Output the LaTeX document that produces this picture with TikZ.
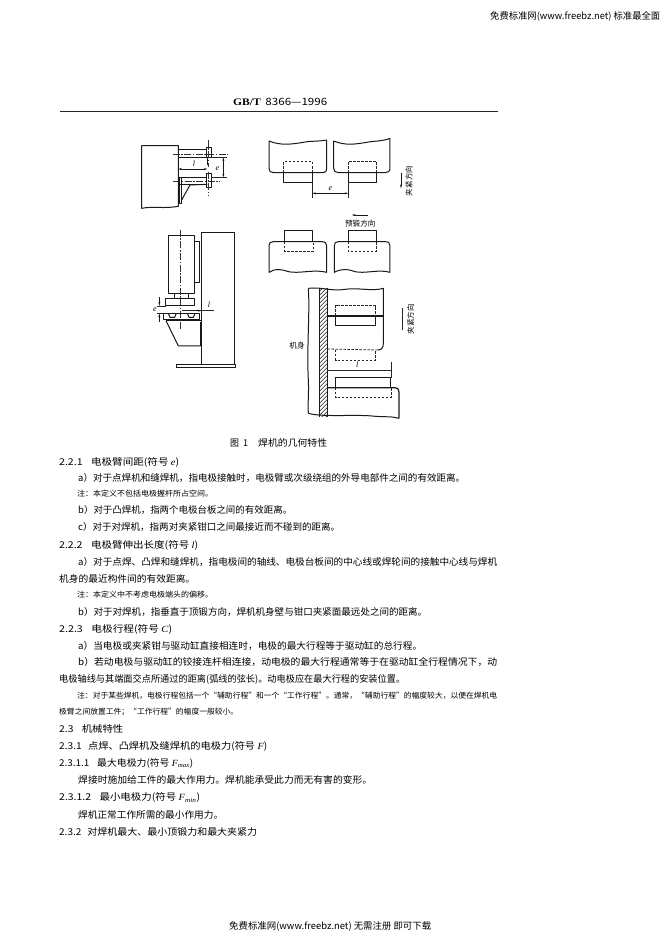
\documentclass[tikz,border=0pt]{standalone}
\usepackage{fontspec}
\usepackage{graphicx}
\setmainfont{Noto Sans CJK SC}
\newfontfamily\serifsym{Liberation Serif}
\usetikzlibrary{arrows.meta}
\newcommand{\sym}[1]{{\serifsym\itshape #1}}
\newcommand{\tline}[6]{\node[txt,font=\fontsize{#5}{#5}\selectfont] (#1) at (#2,#3) {\resizebox{#4pt}{\height}{#6}};}
\tikzset{
  txt/.style={anchor=west,inner sep=0pt,text=black},
  ln/.style={line width=1pt,draw=black!90,line join=round},
  thin/.style={line width=0.6pt,draw=black!85},
  dsh/.style={line width=0.8pt,draw=black!85,dash pattern=on 2.5pt off 1.5pt},
  ctr/.style={line width=0.6pt,draw=black!80,dash pattern=on 7pt off 1.5pt on 1.5pt off 1.5pt},
  dimarr/.style={line width=0.6pt,draw=black!90,{Stealth[length=3.5pt,width=2pt]}-{Stealth[length=3.5pt,width=2pt]}},
  onearr/.style={line width=0.6pt,draw=black!90,-{Stealth[length=4pt,width=2pt]}},
  lab/.style={inner sep=0pt,text=black},
  hatchline/.style={line width=0.5pt,draw=black!90}
}
\begin{document}
\begin{tikzpicture}[x=1pt,y=-1pt]
\useasboundingbox (0,0) rectangle (662,936);
\fill[white] (0,0) rectangle (662,936);
% ---- header / footer
\tline{hd}{490}{16}{170}{9.4}{免费标准网(www.freebz.net) 标准最全面}
\tline{ft}{229}{926}{202}{9.4}{免费标准网(www.freebz.net) 无需注册 即可下载}
\tline{gb}{233}{102}{94}{10}{{\serifsym\bfseries GB/T}\hspace{0.4em}8366—1996}
\draw[line width=1pt,draw=black!85] (60,112) -- (498,112);

% ---- figure A: spot welder arm
\begin{scope}[shift={(130,125)},x=0.3333pt,y=-0.3333pt]
  \draw[ln] (145,235) -- (145,62) -- (35,62) -- (35,250)
     .. controls (70,243) and (100,252) .. (145,244) -- (145,235);
  \draw[ln] (145,75) -- (232,75);
  \draw[ln] (145,97) -- (232,97);
  \draw[ctr] (128,87) -- (295,87);
  \draw[ln] (231,68) rectangle (246,98);
  \draw[ln,line width=1.3pt] (232,98) -- (232,120);
  \draw[ctr] (236,45) -- (236,125);
  \draw[ln] (145,157) -- (230,157);
  \draw[ln] (145,178) -- (230,178);
  \draw[ctr] (130,168) -- (270,168);
  \draw[ln] (229,145) rectangle (244,187);
  \draw[ctr] (236,140) -- (236,212);
  \draw[ln] (148,160) -- (148,235) -- (155,235) -- (155,160);
  \draw[ln] (155,225) -- (180,180) -- (232,178);
  \draw[thin] (246,97) -- (290,97);
  \draw[thin] (244,157) -- (290,157);
  \draw[dimarr] (280,97) -- (280,157);
  \draw[dimarr] (145,132) -- (232,132);
  \node[lab,font=\fontsize{8}{8}\selectfont] (la) at (192,117) {\sym{l}};
  \node[lab,font=\fontsize{8}{8}\selectfont] (ea) at (262,130) {\sym{e}};
\end{scope}

% ---- figure B: projection welder
\begin{scope}[shift={(130,220)},x=0.3333pt,y=-0.3333pt]
  \draw[ln] (215,433) -- (215,38) -- (313,38) -- (313,433);
  \draw[ln] (140,433) rectangle (317,443);
  \draw[ln] (115,48) rectangle (193,220);
  \draw[ln] (193,65) -- (208,65) -- (208,187) -- (193,187);
  \draw[ctr] (152,30) -- (152,330);
  \draw[ln] (133,220) -- (133,235);
  \draw[ln] (175,220) -- (175,235);
  \draw[ln] (107,235) rectangle (195,258);
  \draw[ln] (100,280) -- (210,280) -- (210,300) -- (100,300) -- cycle;
  \draw[ln] (115,280) -- (120,292) -- (134,292) -- (139,280);
  \draw[ln] (172,280) -- (177,292) -- (190,292) -- (195,280);
  \draw[ln] (108,302) -- (145,378) -- (215,378);
  \draw[ln] (108,302) -- (215,302);
  \draw[line width=1.7pt,draw=black!90] (212,305) -- (212,378);
  \draw[thin] (80,258) -- (107,258);
  \draw[thin] (80,280) -- (100,280);
  \draw[onearr] (88,232) -- (88,258);
  \draw[onearr] (88,305) -- (88,280);
  \draw[thin] (155,272) -- (252,272);
  \draw[onearr] (195,272) -- (215,272);
  \node[lab,font=\fontsize{8}{8}\selectfont] (eb) at (75,268) {\sym{e}};
  \node[lab,font=\fontsize{8}{8}\selectfont] (lb) at (237,255) {\sym{l}};
\end{scope}

% ---- figure C: butt welder jaws
\begin{scope}[shift={(255,125)},x=0.3333pt,y=-0.3333pt]
  % upper left jaw
  \draw[ln] (42,48) .. controls (75,62) and (110,58) .. (145,52) .. controls (170,47) and (190,50) .. (215,45)
     -- (215,130) .. controls (215,140) and (210,143) .. (200,143) -- (55,143)
     .. controls (46,143) and (42,138) .. (42,130) -- cycle;
  \draw[ln] (86,143) -- (86,172) -- (172,172) -- (172,143);
  \draw[dsh] (86,143) -- (86,110) -- (172,110) -- (172,143);
  % upper right jaw
  \draw[ln] (236,48) .. controls (270,62) and (300,58) .. (335,52) .. controls (360,47) and (380,50) .. (405,40)
     -- (405,130) .. controls (405,140) and (398,143) .. (390,143) -- (250,143)
     .. controls (241,143) and (236,138) .. (236,130) -- cycle;
  \draw[ln] (280,143) -- (280,172) -- (365,172) -- (365,143);
  \draw[dsh] (280,143) -- (280,110) -- (365,110) -- (365,143);
  % e
  \draw[thin] (172,172) -- (172,218);
  \draw[thin] (280,172) -- (280,218);
  \draw[dimarr] (172,205) -- (280,205);
  \node[lab,font=\fontsize{8}{8}\selectfont] (ec) at (226,190) {\sym{e}};
  \draw[onearr] (438,145) -- (438,190);
  \node[lab,rotate=90,font=\fontsize{7.6}{7.6}\selectfont] (jc) at (462,168) {夹紧方向};
  % upset
  \draw[onearr] (340,270) -- (290,270);
  \node[lab,font=\fontsize{7.6}{7.6}\selectfont] (yd) at (316,295) {预锻方向};
  % lower left
  \draw[ln] (42,442) .. controls (60,430) and (75,432) .. (100,440) .. controls (130,447) and (180,432) .. (215,442)
     -- (215,362) .. controls (215,354) and (210,350) .. (200,350) -- (55,350)
     .. controls (46,350) and (42,354) .. (42,362) -- cycle;
  \draw[ln] (88,350) -- (88,318) -- (172,318) -- (172,350);
  \draw[dsh] (88,350) -- (88,378) -- (175,378) -- (175,350);
  % lower right
  \draw[ln] (238,442) .. controls (260,430) and (280,432) .. (300,440) .. controls (330,447) and (370,432) .. (405,442)
     -- (405,362) .. controls (405,354) and (400,350) .. (390,350) -- (250,350)
     .. controls (242,350) and (238,354) .. (238,362) -- cycle;
  \draw[ln] (280,350) -- (280,318) -- (365,318) -- (365,350);
  \draw[dsh] (280,350) -- (280,378) -- (365,378) -- (365,350);
\end{scope}

% ---- figure D: jaw, machine body
\begin{scope}[shift={(255,280)},x=0.3333pt,y=-0.3333pt]
  \begin{scope}
    \clip (193,25) rectangle (217,410);
    \foreach \yy in {25,37,...,445} \draw[hatchline] (190,\yy) -- (220,\yy-30);
  \end{scope}
  \draw[ln] (193,25) -- (193,410);
  \draw[ln] (217,25) -- (217,410);
  \draw[ln] (160,25) .. controls (200,20) and (230,35) .. (270,28) .. controls (310,22) and (350,35) .. (385,25)
     -- (385,190) .. controls (385,203) and (380,210) .. (368,210);
  \draw[ln] (160,25) .. controls (165,100) and (155,200) .. (160,300) .. controls (162,340) and (158,370) .. (160,400);
  \draw[ln] (160,400) .. controls (200,412) and (300,403) .. (350,408) .. controls (390,412) and (410,408) .. (432,415);
  \draw[dsh] (217,207) -- (368,210);
  % upper rect
  \draw[ln,line width=1.2pt] (217,108) -- (385,108);
  \draw[ln] (242,108) -- (242,137) -- (362,137) -- (362,108);
  \draw[dsh] (242,108) -- (242,77) -- (362,77) -- (362,108);
  \draw[dsh] (242,210) -- (242,240) -- (362,240) -- (362,210);
  % l
  \draw[thin,line width=0.9pt] (217,272) -- (408,272);
  \draw[thin,line width=0.9pt] (408,245) -- (408,293);
  \node[lab,font=\fontsize{8}{8}\selectfont] (ld) at (307,255) {\sym{l}};
  % lower rect
  \draw[ln] (242,323) -- (242,293) -- (408,293) -- (408,323);
  \draw[dsh] (242,323) -- (242,353) -- (408,353) -- (408,323);
  \draw[ln,line width=1.2pt] (217,323) -- (420,323) .. controls (428,323) and (432,328) .. (432,336) -- (432,415);
  \node[lab,font=\fontsize{7.6}{7.6}\selectfont] (jsh) at (126,197) {机身};
  \draw[thin,line width=0.8pt] (443,85) -- (443,150);
  \node[lab,rotate=90,font=\fontsize{7.6}{7.6}\selectfont] (jd) at (467,118) {夹紧方向};
\end{scope}

% ---- body text
\tline{cap1}{230}{443}{18}{9.4}{图\hspace{0.45em}1}
\tline{cap2}{258}{443}{69}{9.4}{焊机的几何特性}
\tline{t01}{59}{462}{120}{9.4}{2.2.1\hspace{0.8em}电极臂间距(符号 \sym{e})}
\tline{t02}{78}{478}{387}{9.4}{a）对于点焊机和缝焊机，指电极接触时，电极臂或次级绕组的外导电部件之间的有效距离。}
\tline{t03}{77}{494}{136}{7.6}{注：本定义不包括电极握杆所占空间。}
\tline{t04}{78}{510}{214}{9.4}{b）对于凸焊机，指两个电极台板之间的有效距离。}
\tline{t05}{78}{527}{262}{9.4}{c）对于对焊机，指两对夹紧钳口之间最接近而不碰到的距离。}
\tline{t06}{59}{545}{139}{9.4}{2.2.2\hspace{0.8em}电极臂伸出长度(符号 \sym{l})}
\tline{t07}{78}{561.7}{419}{9.4}{a）对于点焊、凸焊和缝焊机，指电极间的轴线、电极台板间的中心线或焊轮间的接触中心线与焊机}
\tline{t08}{59}{579}{136}{9.4}{机身的最近构件间的有效距离。}
\tline{t09}{77}{595}{136}{7.6}{注：本定义中不考虑电极端头的偏移。}
\tline{t10}{78}{611.7}{349}{9.4}{b）对于对焊机，指垂直于顶锻方向，焊机机身壁与钳口夹紧面最远处之间的距离。}
\tline{t11}{59}{629}{113}{9.4}{2.2.3\hspace{0.8em}电极行程(符号 \sym{C})}
\tline{t12}{78}{645.7}{344}{9.4}{a）当电极或夹紧钳与驱动缸直接相连时，电极的最大行程等于驱动缸的总行程。}
\tline{t13}{78}{662}{419}{9.4}{b）若动电极与驱动缸的铰接连杆相连接，动电极的最大行程通常等于在驱动缸全行程情况下，动}
\tline{t14}{59}{679}{346}{9.4}{电极轴线与其端面交点所通过的距离(弧线的弦长)。动电极应在最大行程的安装位置。}
\tline{t15}{77}{695.7}{420}{7.6}{注：对于某些焊机，电极行程包括一个“辅助行程”和一个“工作行程”。通常，“辅助行程”的幅度较大，以便在焊机电}
\tline{t16}{59}{712}{179}{7.6}{极臂之间放置工件；“工作行程”的幅度一般较小。}
\tline{t17}{59}{729}{64}{9.4}{2.3\hspace{0.8em}机械特性}
\tline{t18}{59}{746.7}{208}{9.4}{2.3.1\hspace{0.6em}点焊、凸焊机及缝焊机的电极力(符号 \sym{F})}
\tline{t19}{59}{763}{134}{9.4}{2.3.1.1\hspace{0.8em}最大电极力(符号 \sym{F}\textsubscript{\sym{max}})}
\tline{t20}{78}{780}{294}{9.4}{焊接时施加给工件的最大作用力。焊机能承受此力而无有害的变形。}
\tline{t21}{59}{797.7}{141}{9.4}{2.3.1.2\hspace{0.8em}最小电极力(符号 \sym{F}\textsubscript{\sym{min}})}
\tline{t22}{78}{815}{145}{9.4}{焊机正常工作所需的最小作用力。}
\tline{t23}{59}{831.7}{198}{9.4}{2.3.2\hspace{0.6em}对焊机最大、最小顶锻力和最大夹紧力}
\end{tikzpicture}
\end{document}
